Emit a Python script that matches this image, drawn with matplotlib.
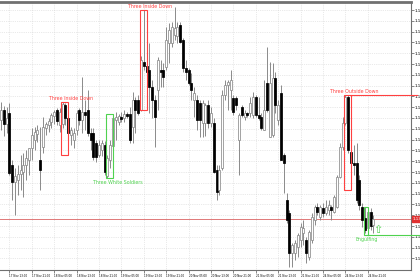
import matplotlib
matplotlib.use("Agg")
import matplotlib.pyplot as plt
from matplotlib.patches import Rectangle

# H1 candles, oldest first
opens = [1.1480, 1.1490, 1.1476, 1.1487, 1.1435, 1.1418, 1.1420, 1.1426, 1.1428, 1.1435,
         1.1440, 1.1452, 1.1460, 1.1466, 1.1440, 1.1453, 1.1472, 1.1475, 1.1478, 1.1484,
         1.1490, 1.1475, 1.1476, 1.1495, 1.1482, 1.1465, 1.1460, 1.1470, 1.1490, 1.1480,
         1.1488, 1.1490, 1.1467, 1.1467, 1.1457, 1.1445, 1.1450, 1.1455, 1.1424, 1.1440,
         1.1454, 1.1480, 1.1478, 1.1483, 1.1482, 1.1486, 1.1486, 1.1473, 1.1500, 1.1500,
         1.1490, 1.1538, 1.1534, 1.1530, 1.1513, 1.1500, 1.1510, 1.1530, 1.1530, 1.1533,
         1.1557, 1.1557, 1.1565, 1.1564, 1.1575, 1.1560, 1.1532, 1.1530, 1.1517, 1.1500,
         1.1500, 1.1497, 1.1477, 1.1477, 1.1495, 1.1477, 1.1477, 1.1430, 1.1410, 1.1432,
         1.1505, 1.1515, 1.1510, 1.1502, 1.1502, 1.1460, 1.1493, 1.1483, 1.1487, 1.1487,
         1.1485, 1.1503, 1.1485, 1.1483, 1.1470, 1.1517, 1.1463, 1.1465, 1.1522, 1.1480,
         1.1507, 1.1445, 1.1400, 1.1387, 1.1347, 1.1347, 1.1353, 1.1360, 1.1367, 1.1360,
         1.1343, 1.1360, 1.1380, 1.1393, 1.1383, 1.1392, 1.1387, 1.1390, 1.1393, 1.1388,
         1.1393, 1.1423, 1.1453, 1.1477, 1.1503, 1.1448, 1.1437, 1.1437, 1.1420, 1.1393,
         1.1382, 1.1372, 1.1388, 1.1375]
highs = [1.1498, 1.1494, 1.1493, 1.1497, 1.1440, 1.1432, 1.1435, 1.1445, 1.1447, 1.1450,
         1.1452, 1.1472, 1.1473, 1.1475, 1.1473, 1.1483, 1.1478, 1.1482, 1.1487, 1.1490,
         1.1492, 1.1492, 1.1498, 1.1497, 1.1485, 1.1473, 1.1472, 1.1490, 1.1492, 1.1523,
         1.1500, 1.1510, 1.1472, 1.1472, 1.1460, 1.1460, 1.1460, 1.1459, 1.1445, 1.1460,
         1.1486, 1.1488, 1.1486, 1.1488, 1.1490, 1.1488, 1.1493, 1.1508, 1.1503, 1.1505,
         1.1544, 1.1590, 1.1542, 1.1557, 1.1520, 1.1505, 1.1543, 1.1540, 1.1537, 1.1573,
         1.1577, 1.1578, 1.1593, 1.1578, 1.1578, 1.1562, 1.1540, 1.1532, 1.1527, 1.1513,
         1.1505, 1.1500, 1.1500, 1.1497, 1.1500, 1.1493, 1.1482, 1.1435, 1.1435, 1.1510,
         1.1520, 1.1520, 1.1530, 1.1505, 1.1504, 1.1487, 1.1495, 1.1490, 1.1488, 1.1503,
         1.1508, 1.1505, 1.1503, 1.1487, 1.1520, 1.1553, 1.1538, 1.1537, 1.1528, 1.1500,
         1.1515, 1.1447, 1.1407, 1.1390, 1.1357, 1.1360, 1.1367, 1.1377, 1.1380, 1.1363,
         1.1370, 1.1387, 1.1395, 1.1397, 1.1395, 1.1397, 1.1400, 1.1400, 1.1395, 1.1405,
         1.1425, 1.1457, 1.1483, 1.1505, 1.1505, 1.1472, 1.1455, 1.1457, 1.1425, 1.1397,
         1.1393, 1.1393, 1.1392, 1.1385]
lows = [1.1470, 1.1464, 1.1467, 1.1425, 1.1400, 1.1385, 1.1405, 1.1410, 1.1403, 1.1420,
        1.1425, 1.1440, 1.1450, 1.1458, 1.1410, 1.1447, 1.1465, 1.1468, 1.1472, 1.1476,
        1.1475, 1.1468, 1.1472, 1.1475, 1.1445, 1.1455, 1.1452, 1.1465, 1.1475, 1.1467,
        1.1470, 1.1464, 1.1450, 1.1440, 1.1438, 1.1443, 1.1444, 1.1425, 1.1422, 1.1432,
        1.1450, 1.1460, 1.1475, 1.1478, 1.1478, 1.1482, 1.1457, 1.1457, 1.1467, 1.1485,
        1.1489, 1.1530, 1.1520, 1.1487, 1.1482, 1.1453, 1.1490, 1.1513, 1.1513, 1.1530,
        1.1537, 1.1553, 1.1560, 1.1557, 1.1557, 1.1528, 1.1520, 1.1515, 1.1500, 1.1483,
        1.1470, 1.1463, 1.1463, 1.1464, 1.1472, 1.1473, 1.1427, 1.1400, 1.1405, 1.1430,
        1.1500, 1.1490, 1.1490, 1.1485, 1.1490, 1.1425, 1.1483, 1.1480, 1.1483, 1.1483,
        1.1482, 1.1483, 1.1480, 1.1470, 1.1470, 1.1488, 1.1463, 1.1463, 1.1487, 1.1475,
        1.1440, 1.1407, 1.1377, 1.1333, 1.1333, 1.1340, 1.1343, 1.1353, 1.1355, 1.1337,
        1.1340, 1.1357, 1.1375, 1.1385, 1.1380, 1.1383, 1.1385, 1.1385, 1.1380, 1.1387,
        1.1392, 1.1422, 1.1450, 1.1475, 1.1447, 1.1423, 1.1425, 1.1397, 1.1390, 1.1373,
        1.1367, 1.1368, 1.1370, 1.1367]
closes = [1.1490, 1.1476, 1.1482, 1.1427, 1.1418, 1.1424, 1.1426, 1.1430, 1.1435, 1.1442,
          1.1452, 1.1465, 1.1468, 1.1470, 1.1430, 1.1473, 1.1476, 1.1479, 1.1485, 1.1488,
          1.1479, 1.1488, 1.1496, 1.1482, 1.1467, 1.1470, 1.1467, 1.1487, 1.1480, 1.1488,
          1.1485, 1.1467, 1.1460, 1.1443, 1.1443, 1.1455, 1.1457, 1.1428, 1.1442, 1.1455,
          1.1482, 1.1483, 1.1484, 1.1481, 1.1486, 1.1484, 1.1460, 1.1500, 1.1490, 1.1487,
          1.1540, 1.1534, 1.1528, 1.1513, 1.1500, 1.1483, 1.1540, 1.1528, 1.1523, 1.1560,
          1.1570, 1.1573, 1.1572, 1.1573, 1.1558, 1.1532, 1.1528, 1.1517, 1.1510, 1.1507,
          1.1480, 1.1480, 1.1497, 1.1495, 1.1477, 1.1487, 1.1428, 1.1408, 1.1430, 1.1505,
          1.1515, 1.1518, 1.1520, 1.1488, 1.1495, 1.1485, 1.1485, 1.1487, 1.1485, 1.1497,
          1.1503, 1.1485, 1.1482, 1.1472, 1.1490, 1.1490, 1.1517, 1.1522, 1.1495, 1.1495,
          1.1440, 1.1437, 1.1380, 1.1347, 1.1355, 1.1357, 1.1365, 1.1373, 1.1372, 1.1347,
          1.1368, 1.1383, 1.1393, 1.1388, 1.1393, 1.1387, 1.1393, 1.1395, 1.1390, 1.1403,
          1.1423, 1.1453, 1.1477, 1.1503, 1.1450, 1.1437, 1.1435, 1.1400, 1.1395, 1.1380,
          1.1370, 1.1388, 1.1374, 1.1381]

time_labels = ["17 Nov 2025", "17 Nov 13:00", "17 Nov 21:00", "18 Nov 05:00", "18 Nov 13:00",
               "18 Nov 21:00", "19 Nov 05:00", "19 Nov 13:00", "19 Nov 21:00", "20 Nov 05:00",
               "20 Nov 13:00", "20 Nov 21:00", "21 Nov 05:00", "21 Nov 13:00", "21 Nov 21:00",
               "24 Nov 05:00", "24 Nov 13:00", "24 Nov 21:00"]

# detected patterns: name, first bar, last bar, box top, box bottom, bullish?
pat_names = ["Three Inside Down", "Three White Soldiers", "Three Inside Down",
             "Three Outside Down", "Engulfing"]
pat_first = [22, 38, 50, 123, 130]
pat_last = [24, 40, 52, 125, 131]
pat_top = [1.1498, 1.1486, 1.1590, 1.1505, 1.1393]
pat_bottom = [1.1445, 1.1422, 1.1490, 1.1410, 1.1365]
pat_bull = [False, True, False, False, True]
pat_text_x = [25.2, 41.8, 53.2, 126.3, 130.7]

RED = "#ff4040"
GREEN = "#4fd24f"

fig = plt.figure(figsize=(4.2, 2.8), dpi=100)
ax = fig.add_axes([0, 10 / 280, 411 / 420, 268 / 280])

n = len(closes)
xs = list(range(n))
ax.vlines(xs, lows, highs, color="#8a8a8a", lw=0.7, zorder=2)
for i in xs:
    o, c = opens[i], closes[i]
    if c >= o:
        ax.bar(i, c - o, bottom=o, width=0.72, color="white", edgecolor="#8a8a8a", lw=0.55, zorder=3)
    else:
        ax.bar(i, o - c, bottom=c, width=0.72, color="black", edgecolor="black", lw=0.55, zorder=3)

# pattern boxes + labels
for k in range(len(pat_names)):
    col = GREEN if pat_bull[k] else RED
    left = pat_first[k] - 0.5
    right = pat_last[k]
    ax.add_patch(Rectangle((left, pat_bottom[k]), right - left, pat_top[k] - pat_bottom[k],
                           fill=False, edgecolor=col, lw=0.8, zorder=4))
    if pat_bull[k]:
        ax.text(pat_text_x[k], pat_bottom[k] - 0.0002, pat_names[k], color=col, fontsize=3.4,
                ha="center", va="top", zorder=5)
    else:
        ax.text(pat_text_x[k], pat_top[k] + 0.0001, pat_names[k], color=col, fontsize=3.4,
                ha="center", va="bottom", zorder=5)

# level lines from the last two patterns
ax.plot([pat_last[3], 148.5], [pat_top[3], pat_top[3]], color=RED, lw=0.8, clip_on=False, zorder=4)
ax.plot([pat_last[4], 150.5], [pat_bottom[4], pat_bottom[4]], color=GREEN, lw=0.8, clip_on=False, zorder=4)
ax.text(134.6, 1.13705, "\u21e7", color=GREEN, fontsize=8, ha="center", va="center", zorder=5)

# current price
last = closes[-1]
ax.axhline(last, color="#e07878", lw=0.7, zorder=1)
ax.text(1.004, last, "%.5f" % last, transform=ax.get_yaxis_transform(), fontsize=3, color="white",
        va="center", ha="left", bbox=dict(boxstyle="square,pad=0.25", fc="#e03030", ec="#e03030"),
        clip_on=False)

# axes cosmetics
ax.yaxis.tick_right()
yt = [1.1590 - k * 0.00108 for k in range(24)]
ax.set_yticks(yt)
ax.set_yticklabels(["%.5f" % v for v in yt])
ax.set_xticks(range(-5, 8 * len(time_labels) - 5, 8))
ax.set_xticklabels(time_labels, ha="left")
ax.tick_params(axis="x", labelsize=2.0, length=2, width=0.5, pad=0.8, color="#555555")
ax.tick_params(axis="y", labelsize=3, length=2, width=0.5, pad=0.8, color="#555555")
ax.grid(True, color="#d4d4d4", linestyle=":", lw=0.5, zorder=0)
ax.set_axisbelow(True)
for side in ["top", "right", "bottom"]:
    ax.spines[side].set_color("#707070")
    ax.spines[side].set_linewidth(0.8)
ax.spines["top"].set_linewidth(2)
ax.spines["left"].set_visible(False)

# limits last: set_xticks would otherwise widen the view to the off-screen tick
ax.set_xlim(-1 / 2.8, 410 / 2.8)
ax.set_ylim(1.1330, 1.1598)

fig.savefig("out.png", dpi=100)
